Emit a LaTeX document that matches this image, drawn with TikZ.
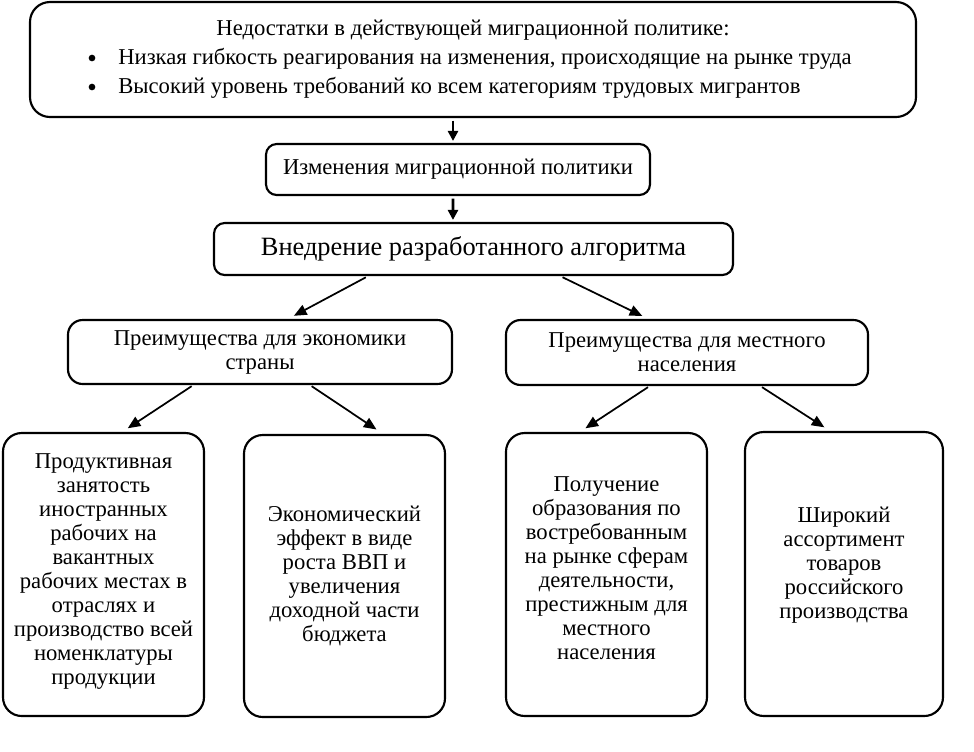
\documentclass[tikz,border=0pt]{standalone}
\usepackage{fontspec}
\setmainfont{Liberation Serif}
\usetikzlibrary{arrows.meta}
\begin{document}
\begin{tikzpicture}[x=0.75pt,y=-0.75pt,
  box/.style={draw, line width=1.6pt, rounded corners=11pt, align=center, inner sep=0pt,
    font=\fontsize{17}{18}\selectfont},
  txt/.style={inner sep=0pt, align=center, font=\fontsize{17}{18}\selectfont},
  dot/.style={circle, fill, inner sep=0pt, minimum size=5pt},
  arr/.style={-{Triangle[length=9.5pt,width=8pt]}, line width=1.3pt},
  varr/.style={-{Triangle[length=7.5pt,width=7.5pt]}, line width=2.2pt}]
\useasboundingbox (0,0) rectangle (974,751);
% top box
\node[box, rounded corners=15pt, minimum width=664.5pt, minimum height=86.25pt] (top) at (473,59.5) {};
\node[txt, anchor=base] (t0) at (473,35) {Недостатки в действующей миграционной политике:};
\node[dot] (bl1) at (92,58) {};
\node[txt, anchor=base west] (t1) at (118,64) {Низкая гибкость реагирования на изменения, происходящие на рынке труда};
\node[dot] (bl2) at (92,87) {};
\node[txt, anchor=base west] (t2) at (118,93) {Высокий уровень требований ко всем категориям трудовых мигрантов};
% second
\node[box, rounded corners=8pt, minimum width=288pt, minimum height=38.25pt] (b2) at (458,169.5) {Изменения миграционной политики};
\node[box, rounded corners=8pt, minimum width=389.25pt, minimum height=39pt,
  font=\fontsize{19.8}{22}\selectfont] (b3) at (473.5,249) {Внедрение разработанного алгоритма};
% middle
\node[box, minimum width=288pt, minimum height=48pt] (L) at (260,352) {Преимущества для экономики\\страны};
\node[box, minimum width=271.5pt, minimum height=48.75pt] (R) at (687,352.5) {Преимущества для местного\\населения};
% bottom boxes
\node[box, rounded corners=14pt, minimum width=150.75pt, minimum height=212.25pt] (B1) at (103.5,574.5) {};
\node[txt] (B1t) at (103.5,572) {Продуктивная\\занятость\\иностранных\\рабочих на\\вакантных\\рабочих местах в\\отраслях и\\производство всей\\номенклатуры\\продукции};
\node[box, rounded corners=14pt, minimum width=150.75pt, minimum height=211.5pt] (B2) at (344.5,576) {};
\node[txt] (B2t) at (344.5,576) {Экономический\\эффект в виде\\роста ВВП и\\увеличения\\доходной части\\бюджета};
\node[box, rounded corners=14pt, minimum width=150.75pt, minimum height=212.25pt] (B3) at (606.5,574.5) {};
\node[txt] (B3t) at (606.5,568) {Получение\\образования по\\востребованным\\на рынке сферам\\деятельности,\\престижным для\\местного\\населения};
\node[box, rounded corners=14pt, minimum width=148.5pt, minimum height=213pt] (B4) at (844,574) {};
\node[txt] (B4t) at (844,565) {Широкий\\ассортимент\\товаров\\российского\\производства};
% arrows
\draw[varr, shorten <=2pt, shorten >=1.5pt] ([xshift=-15pt]top.south) -- ([xshift=-3.75pt]b2.north);
\draw[varr, shorten <=2pt, shorten >=1.5pt] ([xshift=-3.75pt]b2.south) -- ([xshift=-15.4pt]b3.north);
\draw[arr, shorten <=2pt, shorten >=5pt] ([xshift=-79pt]b3.south) -- ([xshift=21pt]L.north);
\draw[arr, shorten <=2pt, shorten >=5pt] ([xshift=65pt]b3.south) -- ([xshift=-29pt]R.north);
\draw[arr, shorten <=1.5pt, shorten >=5pt] ([xshift=-50pt]L.south) -- ([xshift=14pt]B1.north);
\draw[arr, shorten <=1.5pt, shorten >=6pt] ([xshift=37.5pt]L.south) -- ([xshift=29pt]B2.north);
\draw[arr, shorten <=1.5pt, shorten >=5pt] ([xshift=-28pt]R.south) -- ([xshift=-20pt]B3.north);
\draw[arr, shorten <=1.5pt, shorten >=5pt] ([xshift=55pt]R.south) -- ([xshift=-10.5pt]B4.north);
\end{tikzpicture}
\end{document}
